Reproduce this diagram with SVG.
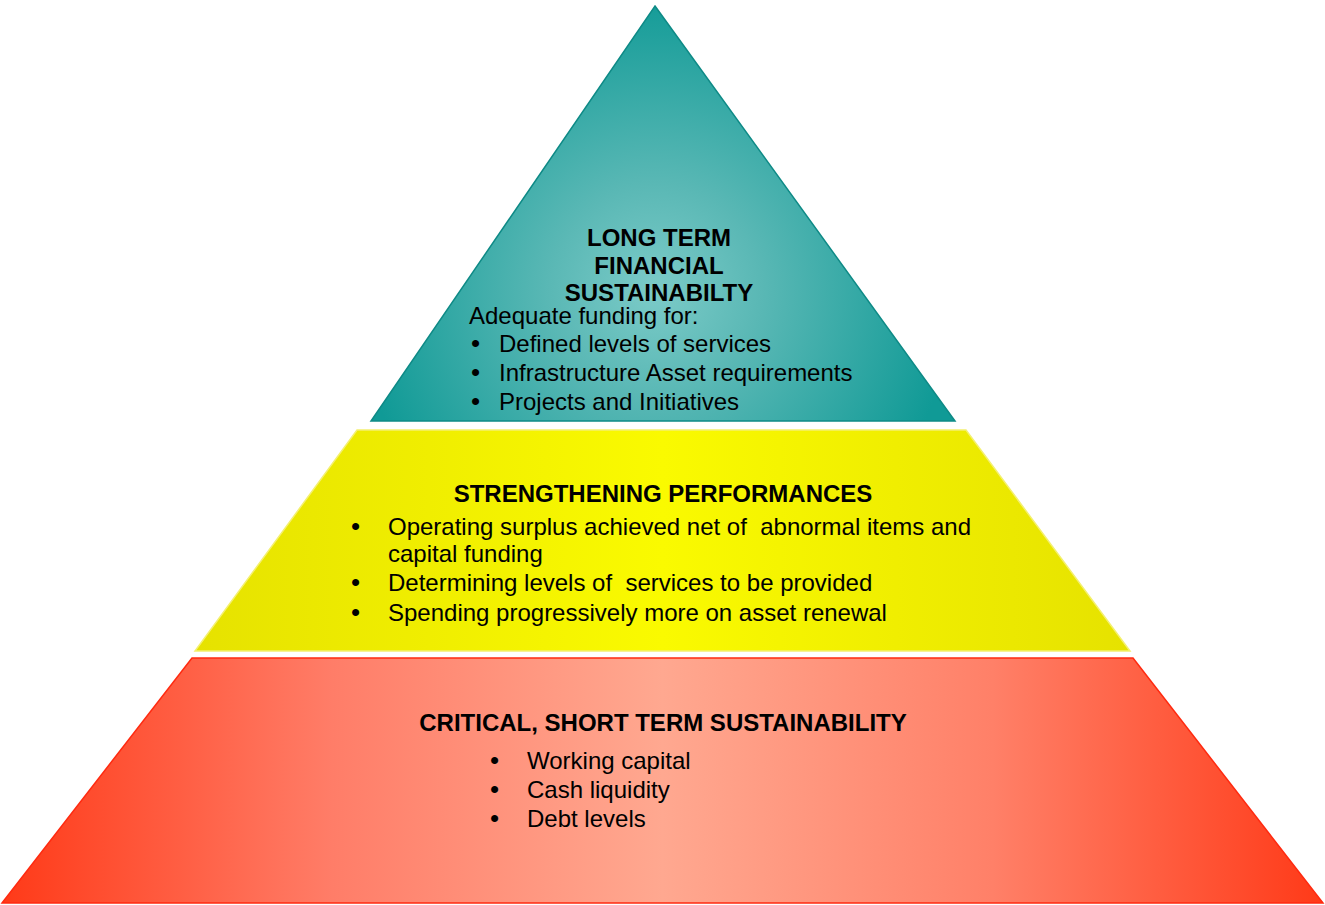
<svg xmlns="http://www.w3.org/2000/svg" width="1325" height="905" viewBox="0 0 1325 905">
<defs>
<radialGradient id="gTeal" cx="655" cy="290" r="300" gradientUnits="userSpaceOnUse">
<stop offset="0" stop-color="#7ccbc8"/>
<stop offset="0.35" stop-color="#5ab8b5"/>
<stop offset="1" stop-color="#109a96"/>
</radialGradient>
<linearGradient id="gYellow" x1="195" y1="0" x2="1130" y2="0" gradientUnits="userSpaceOnUse">
<stop offset="0" stop-color="#e6e200"/>
<stop offset="0.5" stop-color="#fafa00"/>
<stop offset="1" stop-color="#e6e200"/>
</linearGradient>
<linearGradient id="gRed" x1="2" y1="0" x2="1323" y2="0" gradientUnits="userSpaceOnUse">
<stop offset="0" stop-color="#ff3a18"/>
<stop offset="0.25" stop-color="#ff7d68"/>
<stop offset="0.5" stop-color="#ffa890"/>
<stop offset="0.75" stop-color="#ff8068"/>
<stop offset="1" stop-color="#ff3a18"/>
</linearGradient>
</defs>
<style>
text{font-family:"Liberation Sans",Arial,sans-serif;font-size:24px;fill:#000;white-space:pre}
.h{font-weight:bold;text-anchor:middle}
.b{font-size:26px}
</style>
<g id="top">
<polygon points="655,6 955,421 371,421" fill="url(#gTeal)" stroke="#0e8a86" stroke-width="1.5"/>
<text class="h" x="659" y="246">LONG TERM</text>
<text class="h" x="659" y="274">FINANCIAL</text>
<text class="h" x="659" y="301">SUSTAINABILTY</text>
<text x="469" y="324">Adequate funding for:</text>
<text class="b" x="471" y="352">•</text><text x="499" y="352">Defined levels of services</text>
<text class="b" x="471" y="381">•</text><text x="499" y="381">Infrastructure Asset requirements</text>
<text class="b" x="471" y="410">•</text><text x="499" y="410">Projects and Initiatives</text>
</g>
<g id="middle">
<polygon points="357,430 966,430 1130,651 195,651" fill="url(#gYellow)" stroke="#f4f070" stroke-width="1.5"/>
<text class="h" x="663" y="502">STRENGTHENING PERFORMANCES</text>
<text class="b" x="351" y="535">•</text><text x="388" y="535">Operating surplus achieved net of  abnormal items and</text>
<text x="388" y="562">capital funding</text>
<text class="b" x="351" y="591">•</text><text x="388" y="591">Determining levels of  services to be provided</text>
<text class="b" x="351" y="621">•</text><text x="388" y="621">Spending progressively more on asset renewal</text>
</g>
<g id="bottom">
<polygon points="192,658 1133,658 1323,903 2,903" fill="url(#gRed)" stroke="#ff2a10" stroke-width="1.5"/>
<text class="h" x="663" y="731">CRITICAL, SHORT TERM SUSTAINABILITY</text>
<text class="b" x="490" y="769">•</text><text x="527" y="769">Working capital</text>
<text class="b" x="490" y="798">•</text><text x="527" y="798">Cash liquidity</text>
<text class="b" x="490" y="827">•</text><text x="527" y="827">Debt levels</text>
</g>
<g id="connectors"/>
</svg>
